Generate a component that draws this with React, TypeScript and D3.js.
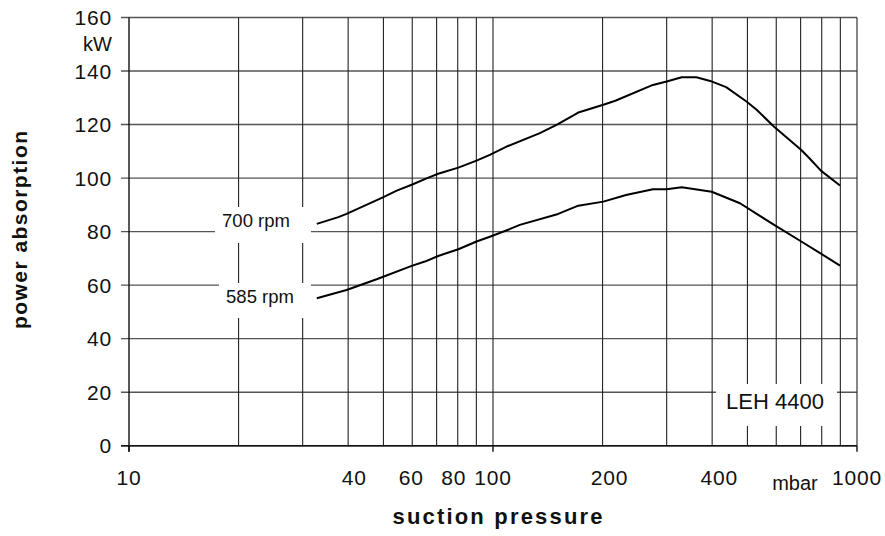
import { useEffect, useRef } from "react";
import * as d3 from "d3";

const W = 885, H = 536;
const MARGIN = { top: 17.5, right: 28, bottom: 90.3, left: 129 };

// suction pressure (mbar) / power absorption (kW)
const PRESSURE_700 = [32.8, 37.6, 39.6, 50, 54.4, 59.8, 65.7, 70.7, 80.3, 90.1, 98, 110, 134.5, 149.5, 171.5, 201, 216.8, 275, 300, 330, 362, 395, 437, 497, 530, 592, 703, 740, 797, 898];
const POWER_700 = [82.9, 85.4, 86.6, 92.9, 95.3, 97.5, 99.9, 101.6, 103.9, 106.5, 108.7, 112, 116.8, 119.9, 124.5, 127.4, 128.9, 134.8, 136.1, 137.7, 137.7, 136.3, 134, 128.6, 125.5, 119.2, 110.5, 107.4, 102.7, 97.2];

const PRESSURE_585 = [32.8, 39.6, 47.9, 59.8, 65, 70.7, 80.3, 90.1, 98, 111, 118.5, 151, 171.5, 201, 232, 275, 300, 330, 399, 477, 592, 703, 806, 898];
const POWER_585 = [55.1, 58.2, 62.2, 67.2, 68.8, 70.9, 73.4, 76.3, 78.1, 80.9, 82.5, 86.6, 89.7, 91.2, 93.7, 95.8, 95.8, 96.6, 94.9, 90.6, 82.5, 76.3, 71.3, 67.3];

const Y_TICKS = [0, 20, 40, 60, 80, 100, 120, 140, 160];
const X_GRID = [20, 30, 40, 50, 60, 70, 80, 90, 100, 200, 300, 400, 500, 600, 700, 800, 900, 1000];
const X_MAJOR = [10, 100, 1000];
const X_LABELS = [10, 40, 60, 80, 100, 200, 400, 1000];

// small horizontal nudges of the tick labels, as placed in the original sheet
const X_LABEL_NUDGE: Record<number, number> = { 10: 0, 40: 6, 60: -1, 80: -4, 100: 0, 200: 7, 400: 7, 1000: 0 };

const FONT = "'Liberation Sans', Arial, sans-serif";

export default function App() {
  const svgRef = useRef<SVGSVGElement>(null);

  useEffect(() => {
    if (!svgRef.current) return;
    const svg = d3.select(svgRef.current);
    svg.selectAll("*").remove();

    const cw = W - MARGIN.left - MARGIN.right, ch = H - MARGIN.top - MARGIN.bottom;
    const x = d3.scaleLog().domain([10, 1000]).range([0, cw]);
    const y = d3.scaleLinear().domain([0, 160]).range([ch, 0]);
    const g = svg.append("g").attr("transform", `translate(${MARGIN.left},${MARGIN.top})`);

    // grid
    g.selectAll(".hg").data(Y_TICKS).join("line")
      .attr("x1", -8).attr("x2", cw).attr("y1", d => y(d)).attr("y2", d => y(d))
      .attr("stroke", "#555").attr("stroke-width", 1.4);
    g.selectAll(".vg").data(X_GRID).join("line")
      .attr("x1", d => x(d)).attr("x2", d => x(d)).attr("y1", 0).attr("y2", ch)
      .attr("stroke", "#222").attr("stroke-width", 1.1);

    // axes
    g.append("line").attr("x1", 0).attr("x2", 0).attr("y1", 0).attr("y2", ch + 6).attr("stroke", "#111").attr("stroke-width", 1.4);
    g.append("line").attr("x1", -8).attr("x2", cw).attr("y1", ch).attr("y2", ch).attr("stroke", "#111").attr("stroke-width", 1.4);
    g.selectAll(".xt").data(X_MAJOR).join("line")
      .attr("x1", d => x(d)).attr("x2", d => x(d)).attr("y1", ch).attr("y2", ch + 6)
      .attr("stroke", "#111").attr("stroke-width", 1.4);

    // label boxes knock out the grid
    const boxes = [
      { x: 215, y: 207, w: 96, h: 36 },
      { x: 219, y: 283, w: 92, h: 35 },
      { x: 716, y: 384, w: 121, h: 42 },
    ];
    svg.selectAll(".box").data(boxes).join("rect")
      .attr("x", d => d.x).attr("y", d => d.y).attr("width", d => d.w).attr("height", d => d.h)
      .attr("fill", "#fff");

    // curves
    const line = d3.line<[number, number]>().x(d => x(d[0])).y(d => y(d[1]));
    const series = [
      d3.zip(PRESSURE_700, POWER_700) as [number, number][],
      d3.zip(PRESSURE_585, POWER_585) as [number, number][],
    ];
    g.selectAll(".curve").data(series).join("path")
      .attr("d", d => line(d)).attr("fill", "none").attr("stroke", "#000").attr("stroke-width", 2)
      .attr("stroke-linejoin", "round");

    // tick labels
    g.selectAll(".yl").data(Y_TICKS).join("text")
      .attr("x", -17).attr("y", d => y(d)).attr("dy", "0.36em").attr("text-anchor", "end")
      .attr("font-family", FONT).attr("font-size", 21).attr("letter-spacing", 0.8).attr("fill", "#111")
      .text(d => d);
    g.append("text").attr("x", -17).attr("y", 33).attr("text-anchor", "end")
      .attr("font-family", FONT).attr("font-size", 20).attr("fill", "#111").text("kW");

    g.selectAll(".xl").data(X_LABELS).join("text")
      .attr("x", d => x(d) + X_LABEL_NUDGE[d]).attr("y", ch + 39.5).attr("text-anchor", "middle")
      .attr("font-family", FONT).attr("font-size", 21).attr("letter-spacing", 0.8).attr("fill", "#111")
      .text(d => d);
    svg.append("text").attr("x", 795).attr("y", 490).attr("text-anchor", "middle")
      .attr("font-family", FONT).attr("font-size", 20).attr("fill", "#111").text("mbar");

    // annotations
    svg.append("text").attr("x", 256).attr("y", 227.3).attr("text-anchor", "middle")
      .attr("font-family", FONT).attr("font-size", 18.5).attr("fill", "#111").text("700 rpm");
    svg.append("text").attr("x", 260).attr("y", 303.3).attr("text-anchor", "middle")
      .attr("font-family", FONT).attr("font-size", 18.5).attr("fill", "#111").text("585 rpm");
    svg.append("text").attr("x", 775).attr("y", 409.3).attr("text-anchor", "middle")
      .attr("font-family", FONT).attr("font-size", 22).attr("fill", "#111").text("LEH 4400");

    // axis titles
    svg.append("text").attr("x", 497.5).attr("y", 524).attr("text-anchor", "middle")
      .attr("font-family", FONT).attr("font-size", 22).attr("font-weight", 700).attr("fill", "#111")
      .attr("textLength", 210).attr("lengthAdjust", "spacing").text("suction pressure");
    svg.append("text").attr("transform", "translate(26.5,230) rotate(-90)").attr("text-anchor", "middle")
      .attr("font-family", FONT).attr("font-size", 21).attr("font-weight", 700).attr("fill", "#111")
      .attr("textLength", 198).attr("lengthAdjust", "spacing").text("power absorption");
  }, []);

  return <svg ref={svgRef} width={W} height={H} style={{ position: "absolute", left: 0, top: 0, background: "#fff" }} />;
}
